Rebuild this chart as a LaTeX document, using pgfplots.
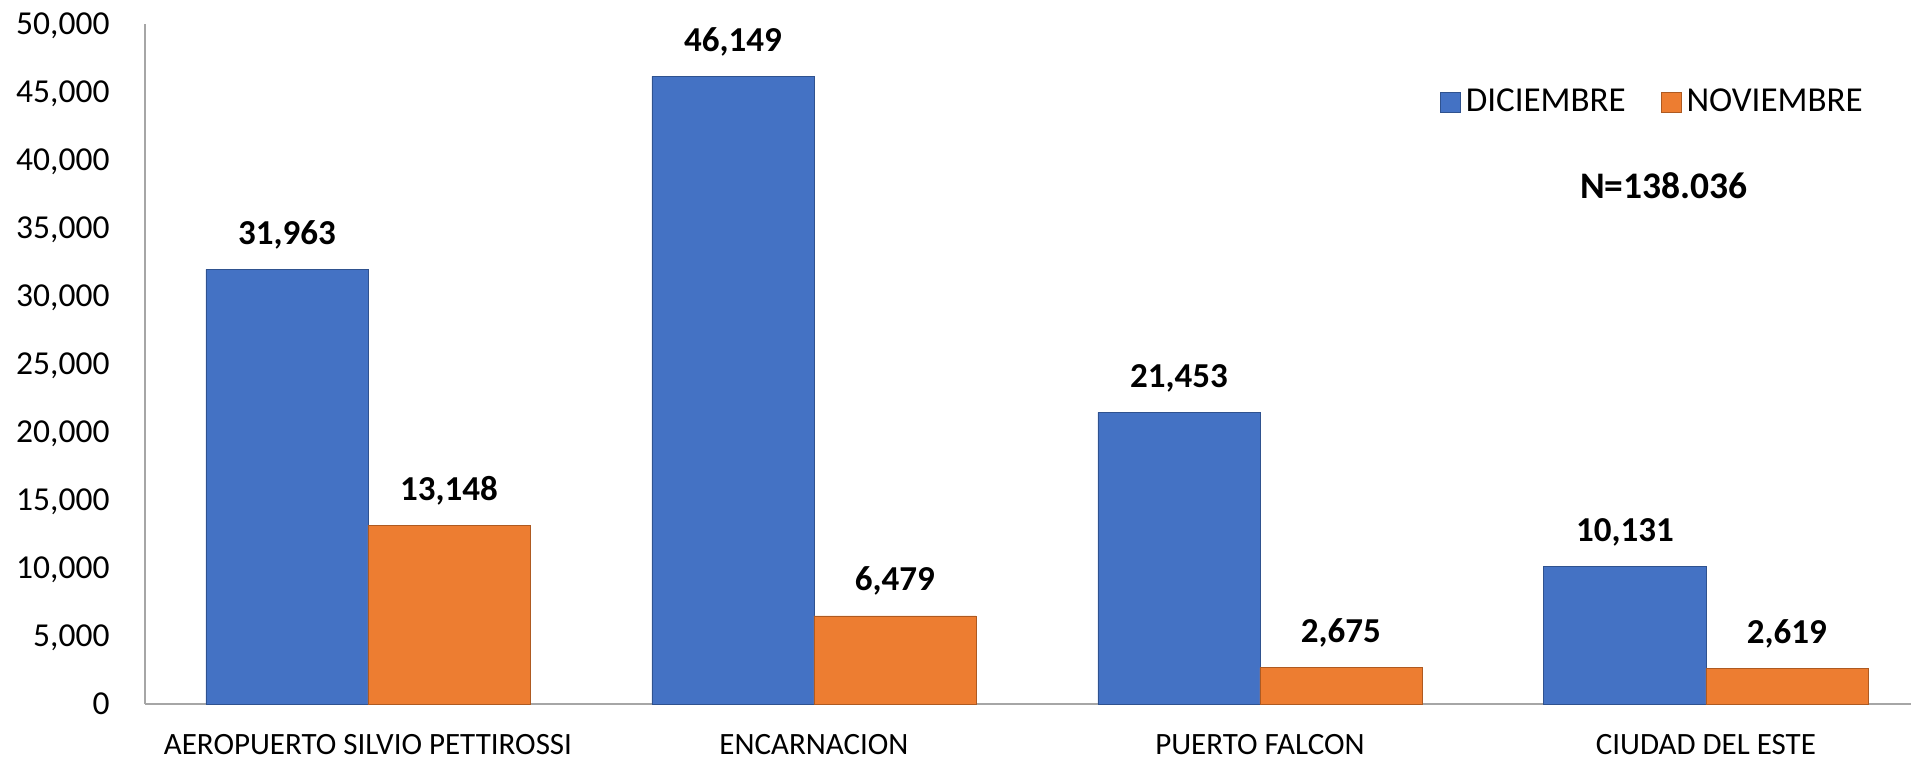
\documentclass[border=0pt]{standalone}
\usepackage{fontspec}
\setmainfont{Carlito}
\usepackage{pgfplots}
\usepackage{pgfplotstable}
\pgfplotsset{compat=1.18}
\definecolor{cblue}{HTML}{4472C4}
\definecolor{corange}{HTML}{ED7D31}
\definecolor{cblueedge}{HTML}{2F528F}
\definecolor{corangeedge}{HTML}{AE5A21}
\definecolor{axgray}{HTML}{A6A6A6}
\pgfplotstableread{
x dic nov
0 31963 13148
1 46149 6479
2 21453 2675
3 10131 2619
}\datatable
\begin{document}
\begin{tikzpicture}
\begin{axis}[
  name=main,
  at={(0pt,0pt)}, anchor=south west,
  scale only axis,
  width=706.4pt, height=272pt,
  ybar=0pt, bar width=64.8pt,
  xmin=-0.5, xmax=3.46,
  ymin=0, ymax=50000,
  ytick={0,5000,...,50000},
  xtick={0,1,2,3},
  xticklabels={AEROPUERTO SILVIO PETTIROSSI, ENCARNACION, PUERTO FALCON, CIUDAD DEL ESTE},
  major tick length=0pt,
  axis lines*=left,
  axis line style={axgray, line width=0.8pt},
  /pgf/number format/assume math mode=true,
  /pgf/number format/1000 sep={,},
  scaled y ticks=false,
  yticklabel style={font=\fontsize{13.4}{16}\selectfont, anchor=base east, inner sep=0pt, xshift=-14pt, yshift=-4.2pt},
  xticklabel style={font=\fontsize{12.4}{15}\selectfont, anchor=base, inner sep=0pt, yshift=-20.2pt},
  nodes near coords,
  nodes near coords style={font=\bfseries\fontsize{14}{17}\selectfont, anchor=base, inner sep=0pt, yshift=10pt, text=black},
  legend style={draw=none, fill=none, inner sep=0pt, outer sep=0pt,
    at={(axis description cs:0.7333,0.885)}, anchor=west,
    legend columns=2, font=\fontsize{14}{17}\selectfont,
    /tikz/every even column/.append style={column sep=12pt}},
  legend image code/.code={\draw[#1] (0pt,-4pt) rectangle (8pt,4pt);},
  clip=false,
]
\addplot[fill=cblue, draw=cblueedge, line width=0.3pt] table[x=x, y=dic] {\datatable};
\addplot[fill=corange, draw=corangeedge, line width=0.3pt] table[x=x, y=nov] {\datatable};
\legend{DICIEMBRE, NOVIEMBRE}
\node[font=\bfseries\fontsize{15}{18}\selectfont, anchor=center, inner sep=0pt] at (axis description cs:0.860,0.762) {N=138.036};
\end{axis}
\pgfresetboundingbox
\path[use as bounding box] (-58pt,-22pt) rectangle (706.4pt,281.6pt);
\end{tikzpicture}
\end{document}
